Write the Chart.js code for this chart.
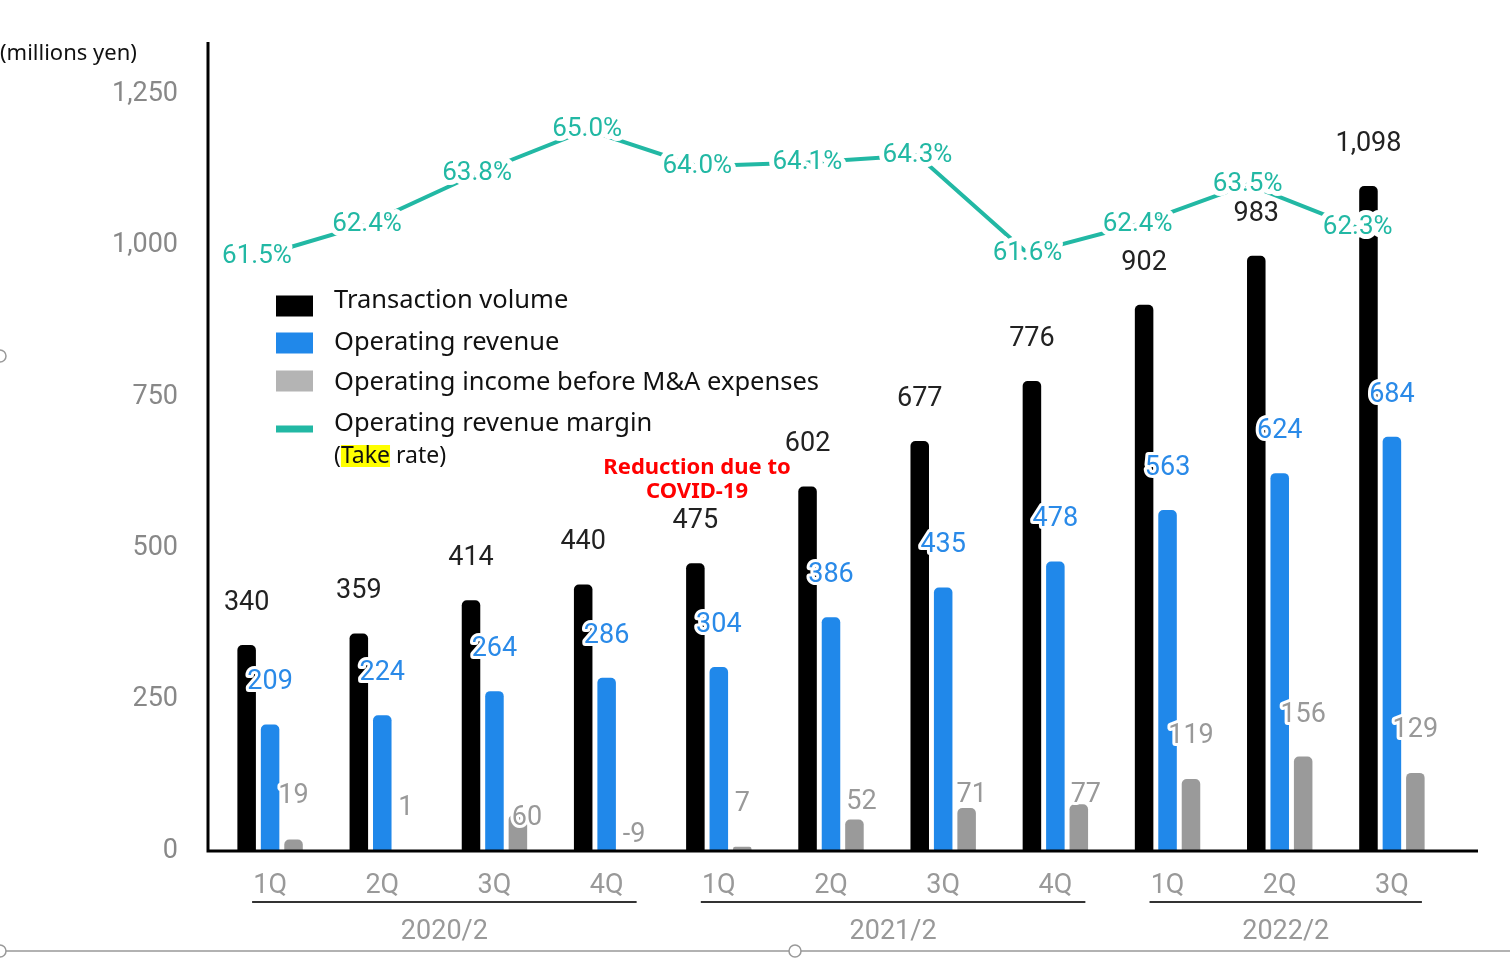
<!DOCTYPE html>
<html>
<head>
<meta charset="utf-8">
<script src="https://cdn.jsdelivr.net/npm/chart.js@4.4.1/dist/chart.umd.min.js"></script>
<style>
  body { margin: 0; background: #fff; }
  #wrap { position: relative; width: 1510px; height: 963px; }
  #wrap canvas { position: absolute; left: 0; top: 0; display: block; }
</style>
</head>
<body>
<div id="wrap">
  <canvas id="kpiChart" width="1510" height="963"></canvas>
  <canvas id="rateChart" width="1510" height="963"></canvas>
</div>
<script>
// quarters on the x axis, fiscal years grouped underneath
const quarters = ['1Q', '2Q', '3Q', '4Q', '1Q', '2Q', '3Q', '4Q', '1Q', '2Q', '3Q'];
const fiscalYears = ['2020/2', '2021/2', '2022/2'];
const yearFirstQuarter = [0, 4, 8];
const yearLastQuarter = [3, 7, 10];

// millions yen
const transactionVolume = [340, 359, 414, 440, 475, 602, 677, 776, 902, 983, 1098];
const operatingRevenue = [209, 224, 264, 286, 304, 386, 435, 478, 563, 624, 684];
const operatingIncome = [19, 1, 60, -9, 7, 52, 71, 77, 119, 156, 129];
// take rate, %
const takeRate = [61.5, 62.4, 63.8, 65.0, 64.0, 64.1, 64.3, 61.6, 62.4, 63.5, 62.3];

const yTicks = [0, 250, 500, 750, 1000, 1250];

const TEAL = '#22b8a4';

// label placement for the small income bars (some labels were nudged on the slide)
const incomeLabelLift = [43, 42, -4, 16, 43, 17, 13, 9, 43, 41, 43];
const incomeLabelShift = [0, 0, 9, 4, 0, 7, 5, 7, 0, 0, 0];

function outlined(c, text, x, y, color, width) {
    c.lineJoin = 'round';
    c.lineWidth = width;
    c.strokeStyle = '#fff';
    c.strokeText(text, x, y);
    c.fillStyle = color;
    c.fillText(text, x, y);
}

// value labels above the bars
const barLabels = {
    id: 'barLabels',
    afterDatasetsDraw(chart) {
        const c = chart.ctx;
        c.save();
        c.textAlign = 'center';
        c.textBaseline = 'middle';
        c.font = '27px Roboto';
        chart.data.datasets.forEach((ds, i) => {
            chart.getDatasetMeta(i).data.forEach((el, j) => {
                const v = ds.data[j];
                const lift = ds.labelLift ? ds.labelLift[j] : 42;
                const shift = ds.labelShift ? ds.labelShift[j] : 0;
                const y = v >= 0 ? el.y - lift : el.base - lift;
                outlined(c, v.toLocaleString('en-US'), el.x + shift, y, ds.labelColor, 6);
            });
        });
        c.restore();
    }
};

// percentage labels sitting on the take rate line
const rateLabels = {
    id: 'rateLabels',
    afterDatasetsDraw(chart) {
        const c = chart.ctx;
        c.save();
        c.textAlign = 'center';
        c.textBaseline = 'middle';
        c.font = '26px Roboto';
        chart.getDatasetMeta(0).data.forEach((el, j) => {
            outlined(c, takeRate[j].toFixed(1) + '%', el.x, el.y, TEAL, 10);
        });
        c.restore();
    }
};

// axis lines, fiscal year groups, legend and notes
const decorations = {
    id: 'decorations',
    afterDraw(chart) {
        const c = chart.ctx;
        const area = chart.chartArea;
        const x = chart.scales.x;
        c.save();

        // axes: the bottom line runs past the plot
        c.strokeStyle = '#000';
        c.lineWidth = 3;
        c.beginPath();
        c.moveTo(area.left - 6, area.top);
        c.lineTo(area.left - 6, area.bottom);
        c.moveTo(area.left - 7.5, area.bottom);
        c.lineTo(area.right + 30, area.bottom);
        c.stroke();

        // fiscal year brackets
        c.font = '27px Roboto';
        c.textAlign = 'center';
        c.textBaseline = 'middle';
        fiscalYears.forEach((label, i) => {
            const x0 = x.getPixelForValue(yearFirstQuarter[i]) - 18;
            const x1 = x.getPixelForValue(yearLastQuarter[i]) + 30;
            c.strokeStyle = '#333';
            c.lineWidth = 2;
            c.beginPath();
            c.moveTo(x0, 902);
            c.lineTo(x1, 902);
            c.stroke();
            c.fillStyle = '#999';
            c.fillText(label, (x0 + x1) / 2, 932);
        });

        // unit
        c.textAlign = 'left';
        c.fillStyle = '#111';
        c.font = '22px "Noto Sans"';
        c.fillText('(millions yen)', 0, 54);

        // legend
        const keyRows = [306, 343, 381, 429];
        const textRows = [301, 343, 383, 424];
        c.font = '25.5px "Noto Sans"';
        chart.data.datasets.concat(rateDatasets).forEach((ds, i) => {
            const y = keyRows[i];
            c.fillStyle = ds.legendColor;
            if (ds.type === 'line') {
                c.fillRect(276, y - 3.5, 37, 7);
            } else {
                c.fillRect(276, y - 10.5, 37, 21);
            }
            c.fillStyle = '#111';
            c.fillText(ds.label, 334, textRows[i]);
        });
        c.font = '23px "Noto Sans"';
        const tx = 334, ty = 456;
        const wOpen = c.measureText('(').width;
        const wTake = c.measureText('Take').width;
        c.fillStyle = '#ffff00';
        c.fillRect(tx + wOpen, ty - 11, wTake, 22);
        c.fillStyle = '#111';
        c.fillText('(Take rate)', tx, ty);

        // note
        c.textAlign = 'center';
        c.fillStyle = '#ff0000';
        c.font = 'bold 22px "Noto Sans"';
        c.fillText('Reduction due to', 697, 468);
        c.fillText('COVID-19', 697, 492);

        // slide frame remnants
        c.strokeStyle = '#999';
        c.lineWidth = 1.5;
        c.beginPath();
        c.moveTo(0, 951);
        c.lineTo(1510, 951);
        c.stroke();
        c.fillStyle = '#fff';
        [[795, 951], [0, 951], [0, 356]].forEach(p => {
            c.beginPath();
            c.arc(p[0], p[1], 6, 0, Math.PI * 2);
            c.fill();
            c.stroke();
        });

        c.restore();
    }
};

const barStyle = {
    categoryPercentage: 0.627,
    barPercentage: 0.79,
    borderRadius: 5,
    borderSkipped: 'start'
};

const rateDatasets = [{
    type: 'line',
    label: 'Operating revenue margin',
    data: takeRate.map((v, i) => ({ x: i, y: v })),
    borderColor: TEAL,
    legendColor: TEAL,
    borderWidth: 4,
    pointRadius: 0,
    tension: 0,
    fill: false
}];

new Chart(document.getElementById('kpiChart').getContext('2d'), {
    type: 'bar',
    data: {
        labels: quarters,
        datasets: [{
            label: 'Transaction volume',
            data: transactionVolume,
            backgroundColor: '#000',
            legendColor: '#000',
            labelColor: '#222',
            ...barStyle
        }, {
            label: 'Operating revenue',
            data: operatingRevenue,
            backgroundColor: '#2088ea',
            legendColor: '#2088ea',
            labelColor: '#2a8ae8',
            ...barStyle
        }, {
            label: 'Operating income before M&A expenses',
            data: operatingIncome,
            backgroundColor: '#9a9a9a',
            legendColor: '#b4b4b4',
            labelColor: '#999',
            labelLift: incomeLabelLift,
            labelShift: incomeLabelShift,
            ...barStyle
        }]
    },
    options: {
        responsive: false,
        animation: false,
        layout: {
            padding: { top: 42, right: 62, left: 0, bottom: 0 }
        },
        plugins: {
            legend: { display: false },
            tooltip: { enabled: false }
        },
        scales: {
            x: {
                grid: { display: false },
                border: { display: false },
                ticks: {
                    color: '#999',
                    font: { family: 'Roboto', size: 27 },
                    padding: 11,
                    maxRotation: 0,
                    autoSkip: false
                },
                afterFit: scale => { scale.height = 112; }
            },
            y: {
                min: 0,
                max: 1336,
                grid: { display: false },
                border: { display: false },
                afterBuildTicks: scale => {
                    scale.ticks = yTicks.map(v => ({ value: v }));
                },
                ticks: {
                    color: '#888',
                    font: { family: 'Roboto', size: 27 },
                    padding: 28,
                    callback: v => v.toLocaleString('en-US')
                },
                afterFit: scale => {
                    scale.width = 214;
                    scale.paddingTop = 0;
                    scale.paddingBottom = 0;
                }
            }
        }
    },
    plugins: [barLabels, decorations]
});

// take rate line, drawn on its own layer over the bars
new Chart(document.getElementById('rateChart').getContext('2d'), {
    type: 'line',
    data: { datasets: rateDatasets },
    options: {
        responsive: false,
        animation: false,
        layout: {
            padding: { top: 42, right: 62, left: 214, bottom: 112 }
        },
        plugins: {
            legend: { display: false },
            tooltip: { enabled: false }
        },
        scales: {
            x: { type: 'linear', display: false, min: -0.39, max: 10.82 },
            y: { type: 'linear', display: false, min: 45.133, max: 67.423 }
        }
    },
    plugins: [rateLabels]
});
</script>
</body>
</html>
